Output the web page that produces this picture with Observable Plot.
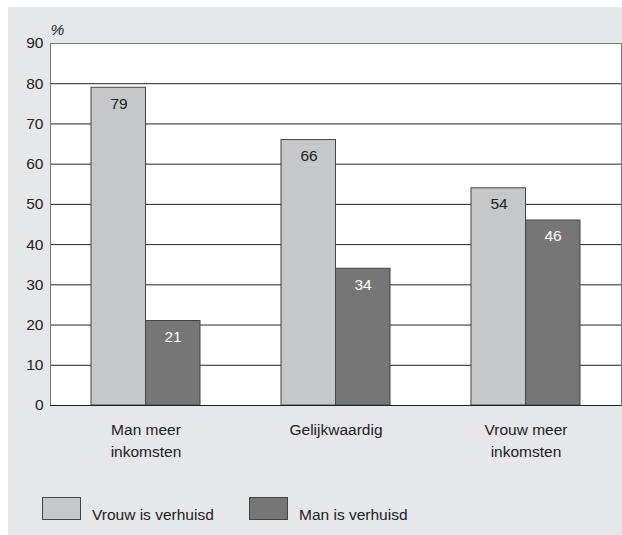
<!DOCTYPE html>
<html>
<head>
<meta charset="utf-8">
<script src="https://cdn.jsdelivr.net/npm/d3@7"></script>
<script src="https://cdn.jsdelivr.net/npm/@observablehq/plot@0.6"></script>
<style>
  html, body { margin: 0; padding: 0; background: #ffffff; }
  body { width: 622px; height: 535px; position: relative; overflow: hidden;
         font-family: "Liberation Sans", Arial, sans-serif; }
  #panel { position: absolute; left: 8px; top: 7px; width: 614px; height: 528px; background: #e6e7e8; }
  #chart { position: absolute; left: 0; top: 0; }
  .key { position: absolute; top: 490px; height: 21px; width: 37px; border: 1px solid #444; }
  .keytext { position: absolute; top: 498px; font-size: 15.5px; color: #222; line-height: 20px; white-space: nowrap; }
</style>
</head>
<body>
<div id="panel">
  <div id="chart"></div>
  <div id="legend"></div>
</div>
<script>
const categories = ["Man meer inkomsten", "Gelijkwaardig", "Vrouw meer inkomsten"];
const categoryLabels = ["Man meer\ninkomsten", "Gelijkwaardig", "Vrouw meer\ninkomsten"];
const series = ["Vrouw is verhuisd", "Man is verhuisd"];
const seriesColors = ["#c6c7c9", "#767676"];
const vrouwVerhuisd = [79, 66, 54];
const manVerhuisd = [21, 34, 46];
const yTicks = [0, 10, 20, 30, 40, 50, 60, 70, 80, 90];
const yUnit = "%";

const light = categories.map((c, i) => ({category: c, value: vrouwVerhuisd[i]}));
const dark = categories.map((c, i) => ({category: c, value: manVerhuisd[i]}));
const labelRows = categories.map((c, i) => ({category: c, label: categoryLabels[i]}));

const half = 54.5;
const fs = 15.5;

const chart = Plot.plot({
  width: 614,
  height: 458,
  marginTop: 36,
  marginBottom: 60,
  marginLeft: 42,
  marginRight: 1,
  style: {background: "transparent", fontSize: fs + "px", fontFamily: "Liberation Sans, Arial, sans-serif", color: "#222", overflow: "visible"},
  x: {domain: categories, paddingInner: 0.427, paddingOuter: 0.2135, axis: null},
  y: {domain: [0, 90], ticks: yTicks, tickSize: 0, tickPadding: 7, label: null, line: true},
  marks: [
    Plot.frame({fill: "white", stroke: "none"}),
    Plot.ruleY(yTicks.filter(t => t < 90), {stroke: "#222", strokeWidth: 1}),
    Plot.barY(light, {x: "category", y: "value", fill: seriesColors[0], stroke: "#444", strokeWidth: 1, insetRight: half}),
    Plot.barY(dark, {x: "category", y: "value", fill: seriesColors[1], stroke: "#444", strokeWidth: 1, insetLeft: half}),
    Plot.text(light, {x: "category", y: "value", text: d => String(d.value), dx: -27, dy: 16, lineAnchor: "middle", fill: "#222", fontSize: fs}),
    Plot.text(dark, {x: "category", y: "value", text: d => String(d.value), dx: 27, dy: 16, lineAnchor: "middle", fill: "white", fontSize: fs}),
    Plot.text(labelRows, {x: "category", text: "label", frameAnchor: "bottom", lineAnchor: "top", dy: 14, lineHeight: 1.42, fill: "#222", fontSize: fs}),
    Plot.text([yUnit], {frameAnchor: "top-left", textAnchor: "start", lineAnchor: "middle", dx: 0, dy: -13, fontStyle: "italic", fill: "#222", fontSize: fs}),
    Plot.frame({stroke: "#777", strokeWidth: 1}),
    Plot.ruleY([0], {stroke: "#222"})
  ]
});
document.getElementById("chart").appendChild(chart);

const legend = document.getElementById("legend");
const keyLefts = [34, 241];
series.forEach((s, i) => {
  const box = document.createElement("div");
  box.className = "key";
  box.style.left = keyLefts[i] + "px";
  box.style.background = seriesColors[i];
  legend.appendChild(box);
  const t = document.createElement("div");
  t.className = "keytext";
  t.style.left = (keyLefts[i] + 50) + "px";
  t.textContent = s;
  legend.appendChild(t);
});
</script>
</body>
</html>
